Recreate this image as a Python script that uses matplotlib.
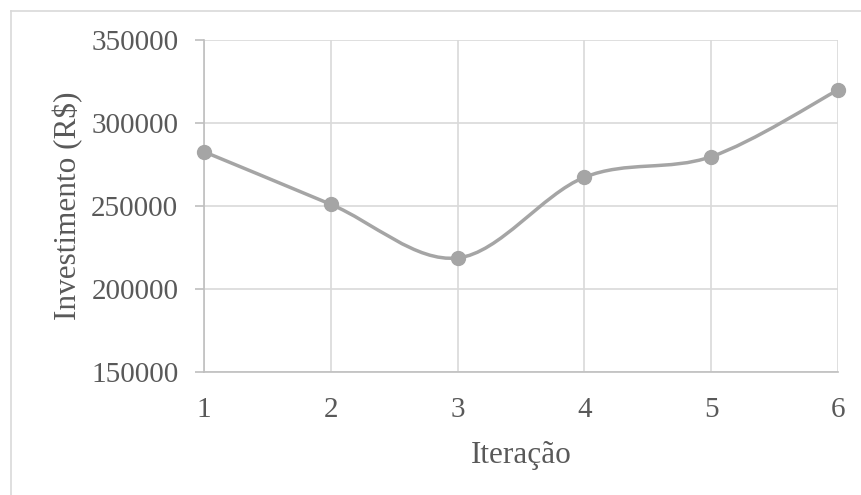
import numpy as np
import matplotlib
matplotlib.use('Agg')
import matplotlib.pyplot as plt
from matplotlib.path import Path
from matplotlib.patches import PathPatch
from matplotlib.lines import Line2D

# Values
iteracao = [1, 2, 3, 4, 5, 6]
investimento = [282700, 251000, 218700, 267300, 279700, 319900]
y_ticks = [150000, 200000, 250000, 300000, 350000]

plt.rcParams['font.family'] = ['Liberation Serif', 'DejaVu Serif']
text_color = '#595959'
line_color = '#a5a5a5'

fig = plt.figure(figsize=(8.62, 4.95), dpi=100)
ax = fig.add_axes([204 / 862, 1 - 372 / 495, 634 / 862, 332 / 495])

# Excel-style smoothed line: Catmull-Rom segments as cubic Bezier curves
x = np.array(iteracao, dtype=float)
y = np.array(investimento, dtype=float)
n = len(x)
verts = [(x[0], y[0])]
codes = [Path.MOVETO]
for i in range(n - 1):
    x0, y0 = (x[i - 1], y[i - 1]) if i > 0 else (x[i], y[i])
    x3, y3 = (x[i + 2], y[i + 2]) if i + 2 < n else (x[i + 1], y[i + 1])
    c1 = (x[i] + (x[i + 1] - x0) / 6, y[i] + (y[i + 1] - y0) / 6)
    c2 = (x[i + 1] - (x3 - x[i]) / 6, y[i + 1] - (y3 - y[i]) / 6)
    verts += [c1, c2, (x[i + 1], y[i + 1])]
    codes += [Path.CURVE4] * 3
ax.add_patch(PathPatch(Path(verts, codes), facecolor='none', edgecolor=line_color,
                       lw=2.5, capstyle='round', zorder=3))
ax.plot(iteracao, investimento, linestyle='none', marker='o', markersize=10,
        color=line_color, zorder=4, clip_on=False)

ax.set_xlim(1, 6)
ax.set_ylim(150000, 350000)
ax.set_xticks(iteracao)
ax.set_yticks(y_ticks)
ax.grid(True, color='#d9d9d9', lw=1.2)
ax.set_axisbelow(True)

for s in ['top', 'right']:
    ax.spines[s].set_visible(False)
ax.spines['left'].set_color('#bfbfbf')
ax.spines['bottom'].set_color('#bfbfbf')
ax.spines['left'].set_linewidth(1.2)
ax.spines['bottom'].set_linewidth(1.2)

ax.tick_params(axis='y', length=6.5, width=1.2, color='#bfbfbf', labelsize=21,
               labelcolor=text_color, pad=12)
ax.tick_params(axis='x', length=0, labelsize=21, labelcolor=text_color, pad=18)

ax.set_xlabel('Iteração', fontsize=22.5, color=text_color, labelpad=13)
ax.set_ylabel('Investimento (R$)', fontsize=22.5, color=text_color, labelpad=6)

# outer chart border (top and left visible in the reference)
fig.add_artist(Line2D([11 / 862, 11 / 862], [0, 1 - 11 / 495], transform=fig.transFigure,
                      color='#d9d9d9', lw=1.2))
fig.add_artist(Line2D([11 / 862, 1], [1 - 11 / 495, 1 - 11 / 495], transform=fig.transFigure,
                      color='#d9d9d9', lw=1.2))

fig.savefig('out.png', dpi=100)
